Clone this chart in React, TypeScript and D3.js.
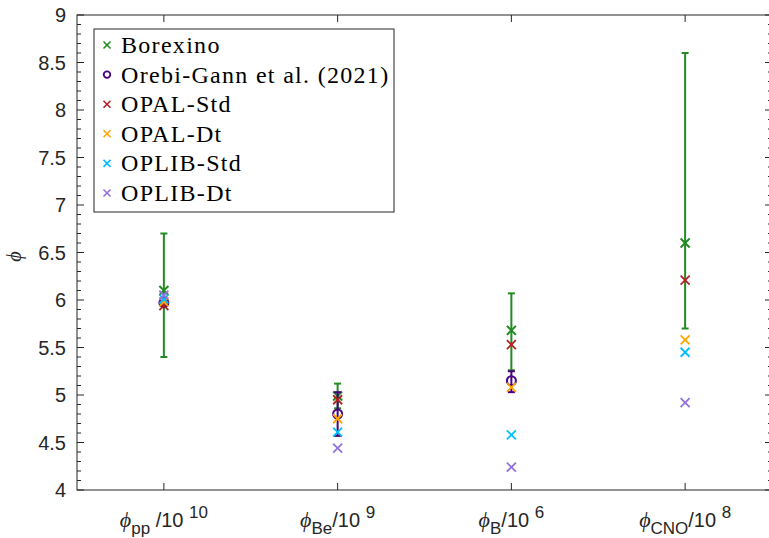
import React from "react";
import * as d3 from "d3";

const categories = [1, 2, 3, 4];
const catSub = ["pp", "Be", "B", "CNO"];
const catGap = [" ", "", "", ""];
const catExp = ["10", "9", "6", "8"];

const borexino = [6.1, 4.99, 5.68, 6.6];
const borexinoLow = [5.4, 4.86, 5.26, 5.7];
const borexinoHigh = [6.7, 5.12, 6.07, 8.6];

const orebi = [5.97, 4.8, 5.15];
const orebiLow = [5.94, 4.57, 5.03];
const orebiHigh = [6.0, 5.03, 5.25];

const opalStd = [5.94, 4.95, 5.53, 6.21];
const opalDt = [5.98, 4.75, 5.08, 5.58];
const oplibStd = [6.01, 4.61, 4.58, 5.45];
const oplibDt = [6.05, 4.44, 4.24, 4.92];

const yTicks = [4, 4.5, 5, 5.5, 6, 6.5, 7, 7.5, 8, 8.5, 9];
const legendNames = ["Borexino", "Orebi-Gann et al. (2021)", "OPAL-Std", "OPAL-Dt", "OPLIB-Std", "OPLIB-Dt"];

const C_BOR = "#228B22";
const C_ORE = "#4B0082";
const C_OPS = "#B22222";
const C_OPD = "#FFA500";
const C_OLS = "#00BFFF";
const C_OLD = "#9370DB";
const AX = "#262626";

const W = 769, H = 538;
const L = 77, R = 772, T = 15, B = 490;

const x = d3.scaleLinear().domain([0.5, 4.5]).range([L, R]);
const y = d3.scaleLinear().domain([4, 9]).range([B, T]);

const SERIF = "'Liberation Serif', 'Times New Roman', serif";
const SANS = "'Liberation Sans', Arial, sans-serif";

function Cross({ cx, cy, s, color, w }: { cx: number; cy: number; s: number; color: string; w: number }) {
  return (
    <g stroke={color} strokeWidth={w} strokeLinecap="butt">
      <line x1={cx - s} y1={cy - s} x2={cx + s} y2={cy + s} />
      <line x1={cx - s} y1={cy + s} x2={cx + s} y2={cy - s} />
    </g>
  );
}

function ErrBar({ cx, lo, hi, color }: { cx: number; lo: number; hi: number; color: string }) {
  const cw = 3.5;
  return (
    <g stroke={color} strokeWidth={2}>
      <line x1={cx} x2={cx} y1={y(lo)} y2={y(hi)} />
      <line x1={cx - cw} x2={cx + cw} y1={y(lo)} y2={y(lo)} />
      <line x1={cx - cw} x2={cx + cw} y1={y(hi)} y2={y(hi)} />
    </g>
  );
}

export default function App() {
  const minor = d3.range(40, 91).map((v) => v / 10).filter((v) => Math.abs(v * 2 - Math.round(v * 2)) > 1e-6);
  const models: [number[], string][] = [
    [opalStd, C_OPS],
    [opalDt, C_OPD],
    [oplibStd, C_OLS],
    [oplibDt, C_OLD],
  ];
  const legendColors = [C_BOR, C_ORE, C_OPS, C_OPD, C_OLS, C_OLD];
  return (
    <svg width={W} height={H} style={{ position: "absolute", left: 0, top: 0, background: "#fff" }}>
      <rect x={0} y={0} width={W} height={H} fill="#fff" />
      {/* frame */}
      <g stroke={AX} strokeWidth={1} fill="none">
        <rect x={L} y={T} width={R - L} height={B - T} />
        {yTicks.map((v) => (
          <g key={"yt" + v}>
            <line x1={L} x2={L + 7} y1={y(v)} y2={y(v)} />
            <line x1={R} x2={R - 7} y1={y(v)} y2={y(v)} />
          </g>
        ))}
        {minor.map((v) => (
          <g key={"ym" + v}>
            <line x1={L} x2={L + 4} y1={y(v)} y2={y(v)} />
            <line x1={R} x2={R - 4} y1={y(v)} y2={y(v)} />
          </g>
        ))}
        {categories.map((c) => (
          <g key={"xt" + c}>
            <line x1={x(c)} x2={x(c)} y1={B} y2={B - 7} />
            <line x1={x(c)} x2={x(c)} y1={T} y2={T + 7} />
          </g>
        ))}
      </g>
      {/* y tick labels */}
      <g fill={AX} fontFamily={SANS} fontSize={20} textAnchor="end">
        {yTicks.map((v) => (
          <text key={"yl" + v} x={L - 11} y={y(v) + 7}>
            {String(v)}
          </text>
        ))}
      </g>
      {/* y label */}
      <text
        transform={`translate(21,${(T + B) / 2 + 4}) rotate(-90)`}
        textAnchor="middle"
        fontFamily={SERIF}
        fontStyle="italic"
        fontSize={20}
        fill={AX}
      >
        ϕ
      </text>
      {/* x labels */}
      <g fill={AX} fontFamily={SANS}>
        {categories.map((c, i) => (
          <text key={"xl" + c} x={x(c)} y={527} textAnchor="middle" fontSize={20}>
            <tspan fontFamily={SERIF} fontStyle="italic" fontSize={22}>ϕ</tspan>
            <tspan fontSize={17} dy={7}>{catSub[i]}</tspan>
            <tspan dy={-7}>{catGap[i] + "/10 "}</tspan>
            <tspan fontSize={17} dy={-9}>{catExp[i]}</tspan>
          </text>
        ))}
      </g>
      {/* Borexino */}
      {categories.map((c, i) => (
        <g key={"bor" + c}>
          <ErrBar cx={x(c)} lo={borexinoLow[i]} hi={borexinoHigh[i]} color={C_BOR} />
          <Cross cx={x(c)} cy={y(borexino[i])} s={4.5} color={C_BOR} w={2} />
        </g>
      ))}
      {/* Orebi-Gann */}
      {orebi.map((v, i) => (
        <g key={"ore" + i}>
          <ErrBar cx={x(categories[i])} lo={orebiLow[i]} hi={orebiHigh[i]} color={C_ORE} />
          <circle cx={x(categories[i])} cy={y(v)} r={4.5} fill="none" stroke={C_ORE} strokeWidth={2} />
        </g>
      ))}
      {/* models */}
      {models.map(([arr, col], k) => (
        <g key={"m" + k}>
          {arr.map((v, i) => (
            <Cross key={i} cx={x(categories[i])} cy={y(v)} s={4.5} color={col} w={1.8} />
          ))}
        </g>
      ))}
      {/* legend */}
      <g>
        <rect x={94} y={29} width={300} height={183} fill="#fff" stroke={AX} strokeWidth={1} />
        {legendNames.map((n, i) => {
          const ly = 45 + i * 29.6;
          return (
            <g key={n}>
              {i === 1 ? (
                <circle cx={107} cy={ly} r={3.3} fill="none" stroke={legendColors[i]} strokeWidth={1.8} />
              ) : (
                <Cross cx={107} cy={ly} s={3.5} color={legendColors[i]} w={1.6} />
              )}
              <text x={121} y={ly + 8} fontFamily={SERIF} fontSize={24} letterSpacing={1.3} fill="#000">
                {n}
              </text>
            </g>
          );
        })}
      </g>
    </svg>
  );
}
